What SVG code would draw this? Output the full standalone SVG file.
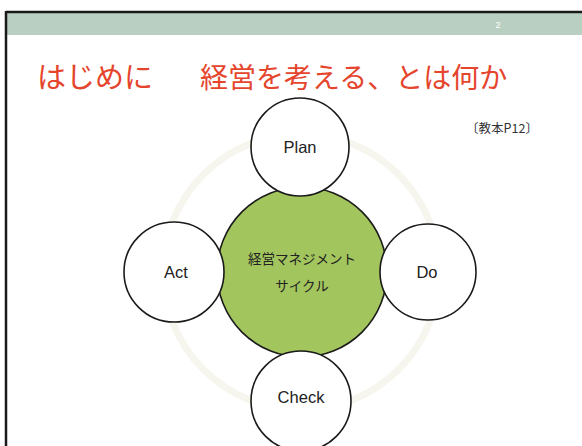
<svg xmlns="http://www.w3.org/2000/svg" width="582" height="446" viewBox="0 0 582 446">
<style>
.node{fill:#fff;stroke:#1a1a1a;stroke-width:1.6}
.lbl{font-family:"Liberation Sans","Noto Sans CJK JP",sans-serif;font-size:16.5px;fill:#222;text-anchor:middle}
.jp{font-family:"Noto Sans CJK JP",sans-serif;font-size:13.5px;fill:#222;text-anchor:middle}
</style>
<rect x="0" y="0" width="582" height="446" fill="#fff"/>
<rect x="6" y="13" width="576" height="22" fill="#b9cfc1"/>
<line x1="6" y1="12" x2="582" y2="12" stroke="#1a1a1a" stroke-width="2.5"/>
<line x1="6" y1="11" x2="6" y2="446" stroke="#1a1a1a" stroke-width="2.5"/>
<text x="498" y="28" font-family="Liberation Sans,sans-serif" font-size="9" fill="#fff" text-anchor="middle">2</text>
<text x="37" y="88" font-family="'Noto Sans CJK JP',sans-serif" font-size="29" fill="#e5452c">はじめに<tspan x="200" font-size="28">経営を考える、とは何か</tspan></text>
<text x="502" y="133" font-family="'Noto Sans CJK JP',sans-serif" font-size="12.5" fill="#333" text-anchor="middle">〔教本P12〕</text>
<g id="connectors">
<circle cx="301" cy="272" r="138" fill="none" stroke="#f6f6ee" stroke-width="7"/>
</g>
<g id="center">
<circle cx="302" cy="272" r="85" fill="#a2c55d" stroke="#1a1a1a" stroke-width="1.6"/>
<text class="jp" x="302" y="264">経営マネジメント</text>
<text class="jp" x="302" y="291">サイクル</text>
</g>
<g id="plan"><circle class="node" cx="300" cy="147" r="49"/><text class="lbl" x="300" y="153">Plan</text></g>
<g id="act"><circle class="node" cx="174" cy="272" r="50"/><text class="lbl" x="176" y="278">Act</text></g>
<g id="do"><circle class="node" cx="428" cy="272" r="48"/><text class="lbl" x="427" y="278">Do</text></g>
<g id="check"><circle class="node" cx="301" cy="401" r="50"/><text class="lbl" x="301" y="403">Check</text></g>
</svg>
